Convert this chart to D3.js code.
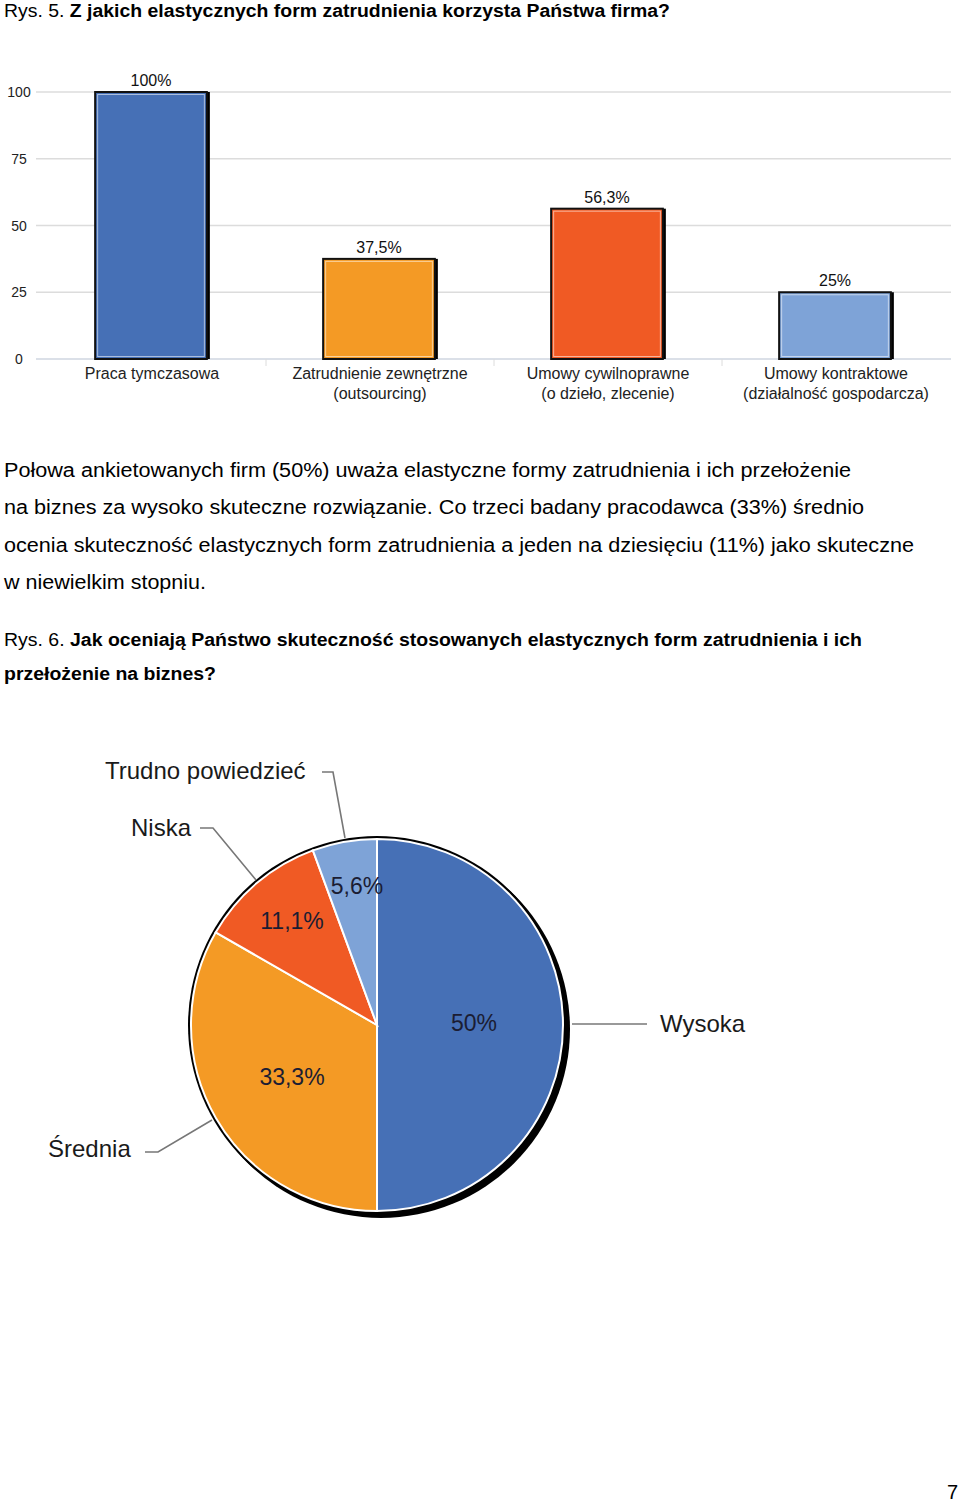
<!DOCTYPE html>
<html><head><meta charset="utf-8">
<script src="https://cdn.jsdelivr.net/npm/d3@7/dist/d3.min.js"></script>
<style>body{margin:0;background:#fff}svg{display:block}</style>
</head><body>
<svg id="c" width="960" height="1504"></svg>
<script>
// ---- data ----
const barCategories = [["Praca tymczasowa"], ["Zatrudnienie zewnętrzne","(outsourcing)"], ["Umowy cywilnoprawne","(o dzieło, zlecenie)"], ["Umowy kontraktowe","(działalność gospodarcza)"]];
const barValues = [100, 37.5, 56.3, 25];
const barLabels = ["100%", "37,5%", "56,3%", "25%"];
const barColors = ["#4670b6", "#f49a25", "#f05a24", "#7ea3d7"];
const yTicks = [0, 25, 50, 75, 100];

const pieCategories = ["Wysoka", "Średnia", "Niska", "Trudno powiedzieć"];
const pieValues = [50, 33.3, 11.1, 5.6];
const pieLabels = ["50%", "33,3%", "11,1%", "5,6%"];
const pieColors = ["#4670b6", "#f49a25", "#f05a24", "#7ea3d7"];

const svg = d3.select("#c");
const F = "'Liberation Sans', Arial, Helvetica, sans-serif";

// ---- page text ----
function line(x, y, parts, size, len) {
  const t = svg.append("text").attr("x", x).attr("y", y).attr("font-family", F)
    .attr("font-size", size).attr("fill", "#000");
  parts.forEach(p => t.append("tspan").attr("font-weight", p[1] ? "bold" : "normal").text(p[0]));
  if (len) t.attr("textLength", len).attr("lengthAdjust", "spacingAndGlyphs");
  return t;
}
line(4, 17, [["Rys. 5. ", 0], ["Z jakich elastycznych form zatrudnienia korzysta Państwa firma?", 1]], 18, 666);
line(4, 477, [["Połowa ankietowanych firm (50%) uważa elastyczne formy zatrudnienia i ich przełożenie", 0]], 20, 847);
line(4, 514, [["na biznes za wysoko skuteczne rozwiązanie. Co trzeci badany pracodawca (33%) średnio", 0]], 20, 860);
line(4, 552, [["ocenia skuteczność elastycznych form zatrudnienia a jeden na dziesięciu (11%) jako skuteczne", 0]], 20, 910);
line(4, 589, [["w niewielkim stopniu.", 0]], 20, 202);
line(4, 646, [["Rys. 6. ", 0], ["Jak oceniają Państwo skuteczność stosowanych elastycznych form zatrudnienia i ich", 1]], 18, 858);
line(4, 680, [["przełożenie na biznes?", 1]], 18, 212);
svg.append("text").attr("x", 958).attr("y", 1499).attr("text-anchor", "end")
  .attr("font-family", F).attr("font-size", 20).text("7");

// ---- bar chart ----
const x = d3.scaleBand().domain(d3.range(barValues.length)).range([37, 949]).paddingInner(0.51).paddingOuter(0.255);
const xb = d3.scaleBand().domain(d3.range(barValues.length)).range([38, 950]);
const y = d3.scaleLinear().domain([0, 100]).range([359, 92]);
const gb = svg.append("g");

gb.selectAll("line.grid").data(yTicks).join("line")
  .attr("x1", 36).attr("x2", 951).attr("y1", d => y(d)).attr("y2", d => y(d))
  .attr("stroke", d => d === 0 ? "#cfd6e0" : "#dcdcdc").attr("stroke-width", 1.5);
gb.selectAll("text.tick").data(yTicks).join("text")
  .attr("x", 19).attr("y", d => y(d) + 5).attr("text-anchor", "middle")
  .attr("font-family", F).attr("font-size", 14).attr("fill", "#222").text(d => d);
gb.selectAll("line.sep").data(d3.range(1, barValues.length)).join("line")
  .attr("x1", i => xb(i)).attr("x2", i => xb(i)).attr("y1", 359).attr("y2", 366)
  .attr("stroke", "#dcdcdc").attr("stroke-width", 1);

const bars = gb.selectAll("g.bar").data(barValues).join("g");
bars.append("rect").attr("x", (d, i) => x(i) + 3).attr("y", d => y(d))
  .attr("width", x.bandwidth()).attr("height", d => y(0) - y(d)).attr("fill", "#000");
bars.append("rect").attr("x", (d, i) => x(i)).attr("y", d => y(d))
  .attr("width", x.bandwidth()).attr("height", d => y(0) - y(d))
  .attr("fill", (d, i) => barColors[i]).attr("stroke", "#111").attr("stroke-width", 2);
bars.append("rect").attr("x", (d, i) => x(i) + 2.5).attr("y", d => y(d) + 2.5)
  .attr("width", x.bandwidth() - 5).attr("height", d => y(0) - y(d) - 5)
  .attr("fill", "none").attr("stroke", "rgba(255,255,255,0.55)").attr("stroke-width", 1);
bars.append("text").attr("x", (d, i) => x(i) + x.bandwidth() / 2).attr("y", d => y(d) - 6)
  .attr("text-anchor", "middle").attr("font-family", F).attr("font-size", 16).attr("fill", "#111")
  .text((d, i) => barLabels[i]);
bars.each(function(d, i) {
  const g = d3.select(this);
  barCategories[i].forEach((s, k) => {
    g.append("text").attr("x", x(i) + x.bandwidth() / 2 + 1).attr("y", 379 + k * 20)
      .attr("text-anchor", "middle").attr("font-family", F).attr("font-size", 16).attr("fill", "#222").text(s);
  });
});

// ---- pie chart ----
const cx = 377, cy = 1025, R = 186;
const pie = d3.pie().sort(null).value(d => d)(pieValues);
const arc = d3.arc().innerRadius(0).outerRadius(R);
const gp = svg.append("g").attr("transform", `translate(${cx},${cy})`);
gp.append("circle").attr("cx", 4).attr("cy", 4).attr("r", R + 3).attr("fill", "#000");
gp.append("circle").attr("r", R + 3).attr("fill", "#000");
gp.selectAll("path").data(pie).join("path").attr("d", arc)
  .attr("fill", (d, i) => pieColors[i]).attr("stroke", "#fff").attr("stroke-width", 2);
const inPos = [[97, -2], [-85, 52], [-85, -104], [-20, -139]];
gp.selectAll("text.in").data(pie).join("text")
  .attr("x", (d, i) => inPos[i][0]).attr("y", (d, i) => inPos[i][1] + 8)
  .attr("text-anchor", "middle").attr("font-family", F).attr("font-size", 23)
  .attr("fill", "#1b1d33").text((d, i) => pieLabels[i]);

const outside = [
  {t: pieCategories[0], tx: 660, ty: 1032, pts: [[572, 1024], [647, 1024]]},
  {t: pieCategories[1], tx: 48, ty: 1157, pts: [[145, 1152], [158, 1152], [212, 1120]]},
  {t: pieCategories[2], tx: 131, ty: 836, pts: [[200, 828], [213, 828], [256, 880]]},
  {t: pieCategories[3], tx: 105, ty: 779, pts: [[322, 772], [333, 772], [345, 838]]}
];
outside.forEach(o => {
  svg.append("path").attr("d", d3.line()(o.pts)).attr("fill", "none")
    .attr("stroke", "#777").attr("stroke-width", 1.6);
  svg.append("text").attr("x", o.tx).attr("y", o.ty)
    .attr("font-family", F).attr("font-size", 24).attr("fill", "#1a1a1a").text(o.t);
});
</script>
</body></html>
